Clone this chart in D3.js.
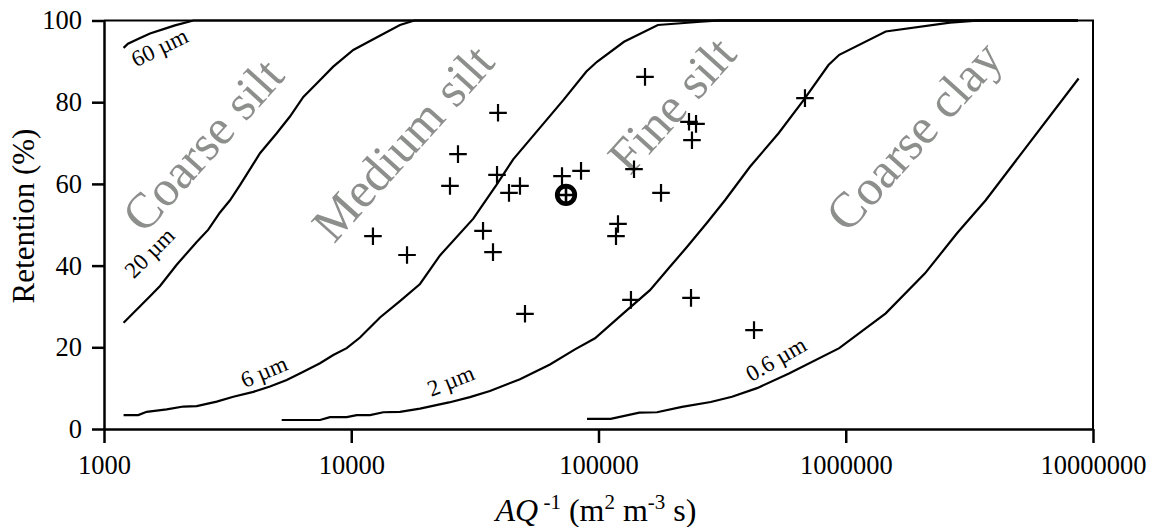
<!DOCTYPE html>
<html>
<head>
<meta charset="utf-8">
<script src="https://cdn.jsdelivr.net/npm/d3@7"></script>
<style>
  body { margin: 0; background: #fff; }
  svg text { font-family: "Liberation Serif", "Times New Roman", serif; }
</style>
</head>
<body>
<div id="chart"></div>
<script>
// Ticks
const xTicks = [1000, 10000, 100000, 1000000, 10000000];
const yTicks = [0, 20, 40, 60, 80, 100];

// Retention curves [AQ^-1, retention %] for each particle size
const curve60 = [[1200, 93.3], [1250, 94.3], [1400, 95.7], [1535, 96.8], [1765, 98.0], [1936, 98.8], [2300, 100], [8700000, 100]];
const curve20 = [[1200, 26], [1535, 32.5], [1685, 35], [1968, 40.2], [2371, 45.8], [2641, 48.8], [2945, 53], [3233, 56],
  [3548, 59.7], [4275, 67.5], [4995, 72.4], [5650, 76.5], [6400, 81.3], [7248, 84.6], [8455, 88.7], [10190, 92.8],
  [12275, 95.4], [15740, 98.9], [18000, 100], [8700000, 100]];
const curve6 = [[1200, 3.4], [1376, 3.4], [1488, 4.2], [1793, 4.8], [2093, 5.5], [2371, 5.6], [2857, 6.7], [3334, 7.9],
  [4017, 9.1], [4692, 10.4], [5483, 12], [6400, 14], [7474, 16.1], [8460, 18.1], [9585, 19.8], [10850, 22.4],
  [13070, 27.3], [15740, 31.3], [18970, 35.5], [22850, 42.5], [31160, 51.5], [38730, 59.8], [45190, 66],
  [56230, 72.8], [72050, 80.5], [89330, 87.5], [98620, 89.9], [126800, 94.8], [173800, 98.9], [259100, 99.7],
  [310000, 100], [8700000, 100]];
const curve2 = [[5232, 2.2], [7474, 2.2], [8204, 2.9], [9585, 2.9], [10520, 3.4], [11910, 3.4], [13480, 4.1], [15740, 4.2],
  [18970, 5.0], [24840, 6.5], [30200, 7.8], [36380, 9.3], [48140, 12.2], [63640, 15.8], [80330, 19.5], [96790, 22.2],
  [126000, 28.3], [161500, 34], [194500, 39.7], [227400, 44.5], [274700, 50.5], [324800, 56], [409900, 64.2],
  [535000, 72.4], [675200, 80.5], [851400, 89.1], [941300, 91.6], [1451000, 97.3], [2640000, 99.5],
  [3490000, 100], [8700000, 100]];
const curve06 = [[89860, 2.5], [112000, 2.5], [146200, 4.0], [172400, 4.1], [217600, 5.4], [284300, 6.6], [346700, 7.9],
  [437600, 10], [589400, 13.6], [941300, 19.8], [1451000, 28.3], [2092000, 38.1], [2818000, 47.9],
  [3682000, 56], [8744000, 85.8]];
const curves = [curve60, curve20, curve6, curve2, curve06];

// Curve labels: text, AQ, retention, angle
const sizeLabels = [["60 µm", 1680, 93.4, -26], ["20 µm", 1530, 43.1, -45], ["6 µm", 4437, 14.0, -23],
  ["2 µm", 25300, 11.8, -22], ["0.6 µm", 522400, 17.1, -30]];
// Class labels: text, AQ, retention
const classLabels = [["Coarse silt", 2514, 69.5], ["Medium silt", 16190, 70.0], ["Fine silt", 198300, 79.3], ["Coarse clay", 1889000, 71.7]];

// Samples
const sampleAQ = [12240, 16810, 25080, 27020, 34120, 37440, 38870, 39230, 43450, 48130, 50430, 71190, 84990,
  117700, 119900, 135300, 139200, 154200, 179000, 232300, 248000, 238800, 236700, 425600, 684000];
const sampleRet = [47.2, 42.6, 59.5, 67.3, 48.5, 43.3, 62.2, 77.4, 57.8, 59.5, 28.2, 61.9, 63.2,
  47.2, 50.2, 31.6, 63.6, 86.2, 57.8, 75.2, 74.7, 70.7, 32.1, 24.2, 81.0];
const meanAQ = [73890];
const meanRet = [57.3];

const width = 1159, height = 527;
const mLeft = 104, mRight = 1093, mTop = 20.5, mBottom = 429;

const svg = d3.select("#chart").append("svg")
  .attr("width", width).attr("height", height);

const x = d3.scaleLog().domain([1000, 10000000]).range([mLeft, mRight]);
const y = d3.scaleLinear().domain([0, 100]).range([mBottom, mTop]);

// Gray class labels
svg.append("g").selectAll("text")
  .data(classLabels).enter().append("text")
  .attr("transform", d => `translate(${x(d[1])},${y(d[2])}) rotate(-48)`)
  .attr("text-anchor", "middle")
  .attr("dy", "0.33em")
  .style("font-size", "50px")
  .attr("fill", "#8d8f8d")
  .text(d => d[0]);

// frame (top, right)
svg.append("path")
  .attr("d", `M${mLeft},${mTop}H${mRight}V${mBottom}`)
  .attr("fill", "none").attr("stroke", "#000").attr("stroke-width", 2);

// curves
const line = d3.line().x(d => x(d[0])).y(d => y(d[1]));
svg.append("g").selectAll("path")
  .data(curves).enter().append("path")
  .attr("d", line)
  .attr("fill", "none").attr("stroke", "#000").attr("stroke-width", 2.2);

svg.append("g").selectAll("text")
  .data(sizeLabels).enter().append("text")
  .attr("transform", d => `translate(${x(d[1])},${y(d[2])}) rotate(${d[3]})`)
  .attr("text-anchor", "middle")
  .attr("dy", "0.33em")
  .style("font-size", "23px")
  .text(d => d[0]);

// samples
svg.append("g").selectAll("path")
  .data(sampleAQ).enter().append("path")
  .attr("transform", (d, i) => `translate(${x(d)},${y(sampleRet[i])})`)
  .attr("d", "M-8.8,0H8.8M0,-8.8V8.8")
  .attr("stroke", "#000").attr("stroke-width", 2.2);

const mean = svg.append("g").selectAll("g")
  .data(meanAQ).enter().append("g")
  .attr("transform", (d, i) => `translate(${x(d)},${y(meanRet[i])})`);
mean.append("circle").attr("r", 8.8).attr("fill", "none").attr("stroke", "#000").attr("stroke-width", 4.6);
mean.append("path").attr("d", "M-8.8,0H8.8M0,-8.8V8.8").attr("stroke", "#000").attr("stroke-width", 2.6);

// axes
const xAxis = svg.append("g")
  .attr("transform", `translate(0,${mBottom})`)
  .call(d3.axisBottom(x).tickValues(xTicks).tickFormat(d3.format("d")).tickSize(14).tickSizeOuter(0));
xAxis.select(".domain").attr("stroke-width", 2.5);
xAxis.selectAll(".tick line").attr("stroke-width", 2.5);
xAxis.selectAll(".tick text").attr("y", 45).attr("dy", 0)
  .style("font-size", "26.5px").style("font-family", "Liberation Serif, serif").attr("fill", "#000");

const yAxis = svg.append("g")
  .attr("transform", `translate(${mLeft},0)`)
  .call(d3.axisLeft(y).tickValues(yTicks).tickSize(12).tickSizeOuter(0));
yAxis.select(".domain").attr("stroke-width", 2.5);
yAxis.selectAll(".tick line").attr("stroke-width", 2.5);
yAxis.selectAll(".tick text").attr("x", -22)
  .style("font-size", "26.5px").style("font-family", "Liberation Serif, serif").attr("fill", "#000");

// axis titles
svg.append("text")
  .attr("transform", `translate(34,216) rotate(-90)`)
  .attr("text-anchor", "middle")
  .style("font-size", "31px")
  .text("Retention (%)");

const xt = svg.append("text")
  .attr("x", 596).attr("y", 521)
  .attr("text-anchor", "middle")
  .style("font-size", "32px");
xt.append("tspan").style("font-style", "italic").text("AQ");
xt.append("tspan").attr("dy", -12).style("font-size", "21px").text(" -1");
xt.append("tspan").attr("dy", 12).text(" (m");
xt.append("tspan").attr("dy", -12).style("font-size", "21px").text("2");
xt.append("tspan").attr("dy", 12).text(" m");
xt.append("tspan").attr("dy", -12).style("font-size", "21px").text("-3");
xt.append("tspan").attr("dy", 12).text(" s)");
</script>
</body>
</html>
